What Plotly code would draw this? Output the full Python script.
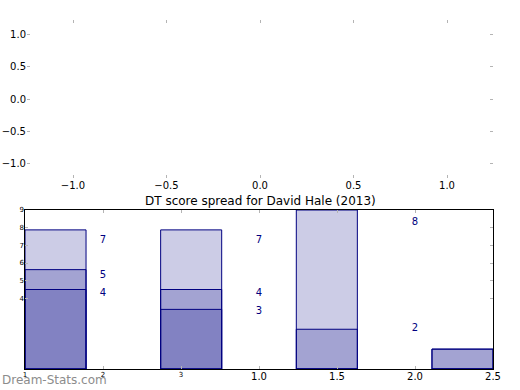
import plotly.graph_objects as go

# ---- data ----
positions = [0, 1, 2, 3]
series_a = [7, 7, 8, 1]   # tallest layer counts
series_b = [5, 4, 2, 1]
series_c = [4, 3, 0, 0]
title_text = "DT score spread for David Hale (2013)"

top_ticks = [-1.0, -0.5, 0.0, 0.5, 1.0]
label_ticks_vals = [-0.5, 0.0, 0.5, 1.0, 1.5, 2.0, 2.5]
label_ticks_text = ["", "", "", "1.0", "1.5", "2.0", "2.5"]
small_x_vals = [1, 2, 3]
small_x_text = ["1", "2", "3"]
small_y_vals = [4, 5, 6, 7, 8, 9]
small_y_text = ["4", "5", "6", "7", "8", "9"]

FILL = "rgba(0,0,128,0.2)"
EDGE = "#000080"
TICKC = "#b4b4b4"
FONT = "DejaVu Sans"
LABEL_RANGE = [-0.5, 2.5]

fig = go.Figure()

# empty top axes
fig.add_trace(go.Scatter(x=[], y=[], xaxis="x", yaxis="y", showlegend=False))

for s in [series_a, series_b, series_c]:
    fig.add_trace(go.Bar(x=positions, y=s, xaxis="x2", yaxis="y2", width=0.45, offset=0,
                         marker=dict(color=FILL, line=dict(color=EDGE, width=1)),
                         showlegend=False, hoverinfo="skip"))

for s in [series_a, series_b, series_c]:
    pts = [(p, v) for p, v in zip(positions, s) if v > 0 and LABEL_RANGE[0] <= p <= LABEL_RANGE[1]]
    fig.add_trace(go.Scatter(x=[p for p, _ in pts], y=[v for _, v in pts], text=[str(v) for _, v in pts],
                             mode="text", textposition="top center", xaxis="x3", yaxis="y3",
                             textfont=dict(color=EDGE, size=10, family=FONT), showlegend=False,
                             cliponaxis=True, hoverinfo="skip"))

fig.add_trace(go.Scatter(x=[], y=[], xaxis="x4", yaxis="y2", showlegend=False))

ax_common = dict(showgrid=False, zeroline=False, ticks="inside", ticklen=3, tickcolor=TICKC,
                 tickwidth=1, automargin=False)

fig.update_layout(
    width=520, height=390, margin=dict(l=0, r=0, t=0, b=0, autoexpand=False),
    paper_bgcolor="white", plot_bgcolor="rgba(0,0,0,0)",
    barmode="overlay", showlegend=False,
    font=dict(family=FONT, color="black", size=10),
    xaxis=dict(domain=[27/520, 493/520], range=[-1.246, 1.246], anchor="y",
               tickvals=top_ticks, tickformat=".1f", showline=False, mirror="ticks",
               tickfont=dict(size=10), **ax_common),
    yaxis=dict(domain=[(390-178)/390, (390-20)/390], range=[-1.234, 1.234], anchor="x",
               tickvals=top_ticks, tickformat=".1f", showline=False, mirror="ticks",
               tickfont=dict(size=10), **ax_common),
    xaxis2=dict(domain=[25/520, 493/520], range=[0, 3.45], anchor="y2",
                showline=True, linecolor="black", linewidth=1, mirror=True,
                showticklabels=False, showgrid=False, zeroline=False, ticks="", automargin=False),
    yaxis2=dict(domain=[(390-369)/390, (390-210)/390], range=[0, 8], anchor="x2",
                showline=True, linecolor="black", linewidth=1, mirror=True,
                showticklabels=False, showgrid=False, zeroline=False, ticks="", automargin=False),
    xaxis3=dict(overlaying="x2", anchor="y2", range=LABEL_RANGE, side="bottom",
                tickvals=label_ticks_vals, ticktext=label_ticks_text, mirror="ticks",
                tickfont=dict(size=10), **ax_common),
    yaxis3=dict(overlaying="y2", anchor="x2", range=[0, 9], side="left",
                tickvals=small_y_vals, ticktext=small_y_text, mirror="ticks",
                tickfont=dict(size=7), **ax_common),
    xaxis4=dict(overlaying="x2", anchor="y2", range=[1, 7], side="bottom",
                tickvals=small_x_vals, ticktext=small_x_text, showgrid=False, zeroline=False,
                ticks="", tickfont=dict(size=7), automargin=False),
    annotations=[
        dict(text=title_text, x=260/520, y=(390-201)/390, xref="paper", yref="paper",
             showarrow=False, font=dict(size=12, color="black", family=FONT),
             xanchor="center", yanchor="middle"),
        dict(text="Dream-Stats.com", x=0, y=(390-380)/390, xref="paper", yref="paper",
             showarrow=False, font=dict(size=12, color="#8c8c8c", family=FONT),
             xanchor="left", yanchor="middle"),
    ],
)

fig.write_html("out.html", config={"displayModeBar": False},
               post_script="document.body.style.margin='0';")
